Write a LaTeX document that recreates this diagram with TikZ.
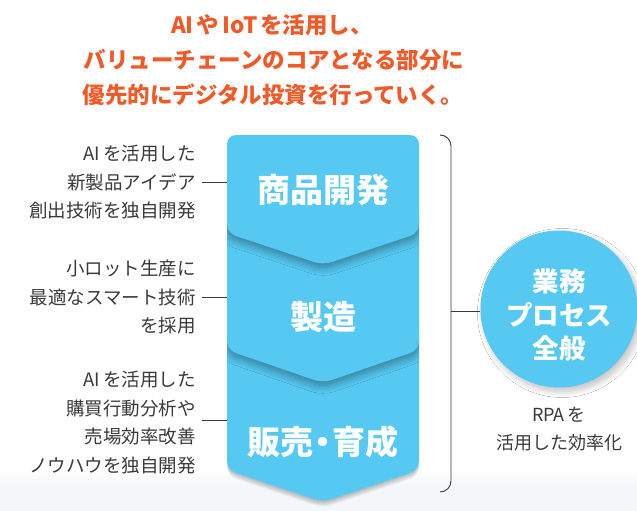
\documentclass[tikz,border=0pt]{standalone}
\usepackage{fontspec}
\setmainfont{Noto Sans CJK JP}
\usetikzlibrary{shadows.blur}
\definecolor{titleorange}{HTML}{F05A28}
\definecolor{skyblue}{HTML}{56C9F3}
\definecolor{txtgray}{HTML}{3A3A3A}
\definecolor{bandblue}{HTML}{F3F7FA}
\tikzset{
  titletxt/.style={text=titleorange,font=\fontsize{22.5}{27}\selectfont\bfseries,inner sep=0},
  sidetxt/.style={text=txtgray,font=\fontsize{18.5}{28.5}\selectfont,align=right,anchor=east,inner sep=0},
  undertxt/.style={text=txtgray,font=\fontsize{18}{28}\selectfont,align=center,inner sep=0},
  chev/.style={fill=skyblue,rounded corners=9},
  chevshadow/.style={rounded corners=9,blur shadow={shadow xshift=0pt,shadow yshift=-4pt,shadow blur steps=12,shadow blur radius=8pt,shadow opacity=40}},
  chevlabel/.style={text=white,font=\fontsize{33}{36}\selectfont\bfseries,inner sep=0},
  circlabel/.style={text=white,font=\fontsize{26.5}{33.5}\selectfont\bfseries,align=center,inner sep=0},
  link/.style={draw=txtgray,line width=0.9pt},
}
\begin{document}
\begin{tikzpicture}[x=1pt,y=-1pt]
\useasboundingbox (0,0) rectangle (637,511);
\fill[white] (0,0) rectangle (637,511);
\shade[top color=white,bottom color=bandblue] (0,468) rectangle (637,486);
\fill[bandblue] (0,486) rectangle (637,511);
% title
\node[titletxt] (t1) at (272,25) {AI\kern3pt や\kern3pt IoT\kern3pt を活用し、};
\node[titletxt] (t2) at (274,60) {バリューチェーンのコアとなる部分に};
\node[titletxt] (t3) at (273,95) {優先的にデジタル投資を行っていく。};
% chevrons (bottom first)
\foreach \k in {1,...,6}
  \fill[black,opacity=0.045,rounded corners=9] (227,455+\k) -- (419,455+\k) -- (419,470+\k) -- (323,502+\k) -- (227,470+\k) -- cycle;
\path[chev] (227,330) -- (419,330) -- (419,470) -- (323,502) -- (227,470) -- cycle;
\begin{scope}
  \clip (227,330) -- (419,330) -- (419,470) -- (323,502) -- (227,470) -- cycle;
  \path[chevshadow] (227,210) -- (419,210) -- (419,350) -- (323,383) -- (227,350) -- cycle;
\end{scope}
\path[chev] (227,210) -- (419,210) -- (419,350) -- (323,383) -- (227,350) -- cycle;
\begin{scope}
  \clip (227,210) -- (419,210) -- (419,350) -- (323,383) -- (227,350) -- cycle;
  \path[chevshadow] (227,135) -- (419,135) -- (419,233) -- (323,265) -- (227,233) -- cycle;
\end{scope}
\path[chev] (227,135) -- (419,135) -- (419,233) -- (323,265) -- (227,233) -- cycle;
\node[chevlabel] (s1) at (323,190) {商品開発};
\node[chevlabel] (s2) at (323,317) {製造};
\node[chevlabel] (s3) at (323,442) {販売\kern-7pt・\kern-7pt育成};
\coordinate (e1) at (227,182);
\coordinate (e2) at (227,297);
\coordinate (e3) at (227,420);
% left texts
\node[sidetxt] (l1) at (196,182.5) {AI\kern3pt を活用した\\新製品アイデア\\創出技術を独自開発};
\node[sidetxt] (l2) at (196,297.5) {小ロット生産に\\最適なスマート技術\\を採用};
\node[sidetxt] (l3) at (196,422.5) {AI\kern3pt を活用した\\購買行動分析や\\売場効率改善\\ノウハウを独自開発};
\draw[link] ([xshift=6pt]l1.east |- e1) -- (e1);
\draw[link] ([xshift=6pt]l2.east |- e2) -- (e2);
\draw[link] ([xshift=6pt]l3.east |- e3) -- (e3);
% bracket
\draw[link,rounded corners=11] (440,135) -- (451,135) -- (451,492) -- (440,492);
\coordinate (bm) at (451,311);
% circle
\node[circle,fill=skyblue,minimum size=157pt,inner sep=0,blur shadow={shadow xshift=3pt,shadow yshift=-4pt,shadow blur steps=12,shadow blur radius=6pt,shadow opacity=25}] (c) at (559,309) {};
\node[circlabel] (ct) at (559,315) {業務\\プロセス\\全般};
\draw[link] (bm) -- (bm -| c.west);
\node[undertxt] (rpa) at (559,429) {RPA\kern3pt を\\活用した効率化};
\end{tikzpicture}
\end{document}
